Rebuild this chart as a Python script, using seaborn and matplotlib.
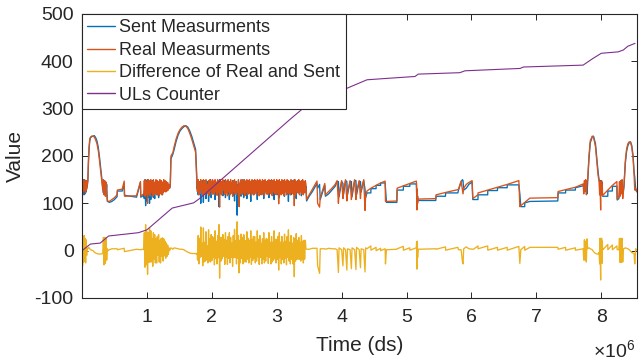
import numpy as np
import pandas as pd
import matplotlib
matplotlib.use('Agg')
import matplotlib.pyplot as plt
from matplotlib.ticker import FuncFormatter, FixedLocator
import seaborn as sns

sns.set_style('ticks')
plt.rcParams['font.family'] = ['Liberation Sans', 'DejaVu Sans']
plt.rcParams['mathtext.fontset'] = 'custom'
plt.rcParams['mathtext.rm'] = 'Liberation Sans'
plt.rcParams['axes.unicode_minus'] = False

# ---------------- data (time in 1e6 ds) ----------------
# start noise
t_s0 = [0.0, 0.008, 0.016, 0.024, 0.032, 0.040, 0.048, 0.056, 0.064, 0.072, 0.080]
real_s0 = [150, 118, 148, 125, 150, 128, 146, 122, 148, 130, 140]
sent_s0 = [0, 150, 120, 150, 118, 150, 120, 148, 125, 140, 135]
# hump 1
t_h1 = [0.09, 0.10, 0.11, 0.12, 0.13, 0.15, 0.17, 0.19, 0.21, 0.23, 0.25, 0.27, 0.29, 0.31, 0.32]
real_h1 = [150, 195, 222, 236, 240, 242, 242, 240, 234, 226, 212, 190, 165, 140, 128]
sent_h1 = [146, 188, 216, 232, 238, 241, 242, 243, 239, 232, 219, 197, 172, 147, 132]
# short noise
t_n1 = [0.33, 0.34, 0.35, 0.36, 0.37, 0.38, 0.39]
real_n1 = [150, 118, 148, 115, 145, 120, 108]
sent_n1 = [122, 148, 120, 142, 118, 140, 104]
# steps
t_st1 = [0.40, 0.42, 0.46, 0.50, 0.54, 0.545, 0.62, 0.65, 0.655, 0.84, 0.90, 0.905, 0.93]
real_st1 = [104, 104, 108, 112, 118, 128, 130, 147, 115, 116, 146, 115, 118]
sent_st1 = [104, 102, 104, 108, 114, 126, 126, 142, 117, 113, 144, 113, 115]
# noise block A (uniform sampling)
n2_start, n2_step = 0.95, 0.01
real_n2 = [120, 148, 115, 150, 118, 145, 100, 150, 120, 148, 116, 150, 122, 146, 115, 150, 118, 144, 120, 150,
           118, 148, 122, 146, 116, 150, 120, 148, 118, 145, 122, 150, 125, 148, 124, 146, 126, 144, 128, 140, 132]
sent_n2 = [118, 110, 150, 95, 148, 105, 150, 112, 145, 100, 140, 108, 146, 120, 148, 112, 136, 110, 146, 125,
           144, 118, 132, 112, 140, 128, 146, 122, 130, 118, 144, 125, 136, 128, 140, 130, 138, 132, 136, 134, 132]
# hump 2
t_h2 = [1.36, 1.37, 1.40, 1.42, 1.45, 1.48, 1.51, 1.54, 1.57, 1.60, 1.63, 1.66, 1.69, 1.72, 1.75, 1.765, 1.775]
real_h2 = [140, 200, 207, 220, 236, 248, 256, 261, 264, 263, 258, 248, 236, 222, 208, 160, 125]
sent_h2 = [136, 194, 204, 214, 231, 244, 253, 258, 262, 264, 261, 253, 242, 228, 214, 168, 130]
# noise block B (uniform sampling)
n3_start, n3_step = 1.78, 0.01
real_n3 = [125, 150, 118, 146, 121, 150, 128, 144, 116, 150, 122, 148,
           118, 150, 124, 140, 120, 148, 116, 150, 126, 146, 119, 150,
           121, 147, 118, 150, 124, 145, 117, 150, 123, 148, 92, 150,
           120, 146, 118, 150, 128, 144, 119, 150, 122, 147, 116, 150,
           124, 146, 118, 150, 121, 144, 115, 148, 125, 150, 120, 146,
           118, 136, 124, 150, 93, 142, 120, 150, 118, 148, 122, 146,
           150, 116, 146, 124, 150, 118, 148, 120, 150, 124, 146, 117,
           150, 121, 148, 118, 150, 122, 146, 118, 150, 125, 148, 116,
           150, 120, 146, 118, 150, 122, 148, 116, 150, 124, 146, 120,
           148, 118, 150, 122, 146, 120, 150, 116, 148, 124, 150, 121,
           146, 118, 150, 122, 148, 99, 150, 120, 146, 118, 150, 121,
           148, 116, 150, 124, 146, 118, 150, 122, 148, 120, 146, 118,
           150, 122, 146, 120, 148, 95, 150, 118, 146, 124, 148, 122,
           150, 118, 146, 124, 148, 120, 150, 118, 146, 122, 148, 140]
sent_n3 = [145, 118, 146, 120, 135, 100, 140, 128, 148, 102, 146, 130,
           140, 110, 144, 130, 146, 104, 138, 125, 150, 112, 140, 120,
           135, 120, 148, 108, 140, 125, 145, 118, 138, 93, 150, 122,
           142, 118, 135, 116, 140, 120, 148, 112, 136, 125, 145, 120,
           140, 108, 144, 122, 135, 128, 148, 116, 140, 105, 134, 125,
           146, 75, 140, 118, 140, 120, 146, 115, 134, 120, 150, 112,
           120, 140, 125, 148, 110, 136, 122, 146, 128, 138, 104, 146,
           126, 142, 118, 134, 120, 148, 128, 140, 108, 138, 124, 145,
           118, 134, 130, 146, 125, 140, 110, 142, 128, 146, 120, 132,
           124, 145, 112, 136, 128, 148, 120, 140, 130, 144, 108, 138,
           122, 144, 126, 140, 118, 140, 112, 135, 128, 146, 120, 140,
           130, 142, 115, 140, 126, 148, 120, 136, 104, 142, 128, 146,
           118, 140, 130, 148, 120, 150, 125, 140, 110, 142, 126, 140,
           122, 136, 128, 146, 116, 138, 130, 144, 124, 140, 126, 136]
# saw section 1
t_t1 = [3.46, 3.50, 3.55, 3.62, 3.63, 3.66, 3.67, 3.74, 3.75, 3.80, 3.85, 3.90]
real_t1 = [108, 118, 130, 147, 100, 92, 112, 142, 118, 125, 132, 140]
sent_t1 = [105, 115, 125, 142, 132, 140, 108, 138, 115, 120, 128, 136]
# saw section 2
t_t2 = [3.93, 3.95, 3.96, 4.00, 4.02, 4.03, 4.06, 4.08, 4.09, 4.13, 4.15, 4.16, 4.20, 4.22, 4.23, 4.27, 4.29, 4.30, 4.34, 4.36]
real_t2 = [148, 100, 120, 148, 110, 125, 150, 105, 122, 148, 108, 120, 150, 108, 125, 148, 110, 128, 150, 85]
sent_t2 = [146, 146, 114, 146, 142, 119, 148, 146, 118, 146, 146, 114, 148, 148, 118, 146, 146, 124, 148, 130]
# calm section 1
t_l1 = [4.37, 4.39, 4.45, 4.451, 4.53, 4.531, 4.60, 4.601, 4.67, 4.675, 4.69, 4.85, 4.855, 4.95, 4.951, 5.05, 5.051,
        5.15, 5.155, 5.16, 5.165, 5.17, 5.18, 5.45, 5.455, 5.60, 5.601, 5.79, 5.80, 5.84, 5.86, 5.87, 5.88, 5.92,
        5.96, 6.01, 6.02]
real_l1 = [118, 126, 132, 132, 138, 138, 143, 143, 147, 104, 104, 105, 132, 137, 137, 142, 142, 147, 140, 86, 130,
           100, 109, 110, 118, 123, 123, 129, 130, 147, 128, 120, 132, 140, 144, 148, 111]
sent_l1 = [112, 122, 122, 131, 131, 138, 138, 143, 143, 132, 102, 102, 128, 128, 136, 136, 141, 141, 121, 125, 110,
           115, 106, 106, 115, 115, 122, 122, 128, 145, 150, 148, 128, 132, 140, 145, 108]
# calm section 2
t_l2 = [6.03, 6.10, 6.101, 6.25, 6.251, 6.40, 6.401, 6.55, 6.551, 6.73, 6.745, 6.76, 6.82, 6.821, 6.90, 7.33, 7.335,
        7.45, 7.451, 7.60, 7.601, 7.72]
real_l2 = [111, 118, 122, 128, 128, 134, 134, 140, 140, 148, 93, 95, 102, 102, 111, 112, 125, 129, 129, 134, 134, 141]
sent_l2 = [108, 108, 118, 118, 127, 127, 133, 133, 139, 139, 120, 93, 93, 101, 104, 105, 122, 122, 128, 128, 133, 137]
# noise before hump 3
t_n4 = [7.73, 7.74, 7.75, 7.76, 7.77, 7.78]
real_n4 = [120, 148, 125, 150, 118, 145]
sent_n4 = [140, 125, 145, 130, 142, 120]
# hump 3
t_h3 = [7.79, 7.81, 7.83, 7.86, 7.88, 7.91, 7.93, 7.95, 7.965]
real_h3 = [150, 200, 232, 242, 240, 220, 190, 160, 146]
sent_h3 = [146, 194, 228, 240, 242, 226, 197, 167, 150]
# noise after hump 3
t_n5 = [7.975, 7.98, 7.985, 7.99, 7.995, 8.0, 8.005, 8.01, 8.015, 8.02]
real_n5 = [118, 146, 120, 86, 144, 122, 148, 118, 140, 117]
sent_n5 = [146, 120, 145, 148, 118, 146, 122, 145, 120, 115]
# calm section 3
t_l3 = [8.03, 8.10, 8.101, 8.17, 8.171, 8.24, 8.245]
real_l3 = [118, 128, 128, 138, 138, 146, 109]
sent_l3 = [115, 115, 126, 126, 136, 136, 107]
# noise before hump 4
t_n6 = [8.27, 8.28, 8.29, 8.30, 8.31, 8.32, 8.33, 8.34]
real_n6 = [112, 146, 115, 148, 120, 150, 110, 128]
sent_n6 = [110, 120, 140, 122, 145, 124, 134, 124]
# hump 4
t_h4 = [8.35, 8.37, 8.39, 8.41, 8.43, 8.45, 8.47, 8.49, 8.505, 8.515, 8.53, 8.55]
real_h4 = [140, 190, 215, 226, 230, 229, 218, 195, 160, 128, 132, 125]
sent_h4 = [136, 184, 210, 222, 228, 230, 222, 200, 166, 156, 128, 124]

# UL counter
t_ul = [0, 0.13, 0.28, 0.41, 0.87, 1.0, 1.39, 1.72, 1.82, 3.21, 3.40, 3.47, 3.67, 3.93, 4.08, 4.39, 4.70, 5.13,
        5.18, 5.82, 5.90, 6.75, 6.80, 7.72, 7.87, 8.0, 8.26, 8.34, 8.41, 8.52]
ul_counter = [0, 14, 16, 31, 38, 44, 90, 101, 111, 278, 300, 311, 320, 327, 343, 361, 364, 368, 373, 376, 380, 385,
              388, 392, 406, 417, 420, 424, 432, 438]

# ---------------- assemble ----------------
t_n2 = list(n2_start + n2_step * np.arange(len(real_n2)))
t_n3 = list(n3_start + n3_step * np.arange(len(real_n3)))
t_all = np.concatenate([t_s0, t_h1, t_n1, t_st1, t_n2, t_h2, t_n3, t_t1, t_t2, t_l1, t_l2, t_n4, t_h3, t_n5, t_l3, t_n6, t_h4]) * 1e6
real = np.concatenate([real_s0, real_h1, real_n1, real_st1, real_n2, real_h2, real_n3, real_t1, real_t2, real_l1,
                       real_l2, real_n4, real_h3, real_n5, real_l3, real_n6, real_h4]).astype(float)
sent = np.concatenate([sent_s0, sent_h1, sent_n1, sent_st1, sent_n2, sent_h2, sent_n3, sent_t1, sent_t2, sent_l1,
                       sent_l2, sent_n4, sent_h3, sent_n5, sent_l3, sent_n6, sent_h4]).astype(float)
diff = real - sent
df = pd.DataFrame({'t': t_all, 'sent': sent, 'real': real, 'diff': diff})
df_ul = pd.DataFrame({'t': np.array(t_ul) * 1e6, 'ul': ul_counter})

# ---------------- plot ----------------
fig = plt.figure(figsize=(6.39, 3.6), dpi=100)
ax = fig.add_axes([82 / 639, 1 - 298 / 360, 555 / 639, 284 / 360])

lw = 0.95
sns.lineplot(data=df, x='t', y='sent', ax=ax, color='#0072BD', lw=lw, sort=False, estimator=None, label='Sent Measurments')
sns.lineplot(data=df, x='t', y='real', ax=ax, color='#D95319', lw=lw, sort=False, estimator=None, label='Real Measurments')
sns.lineplot(data=df, x='t', y='diff', ax=ax, color='#EDB120', lw=lw, sort=False, estimator=None, label='Difference of Real and Sent')
sns.lineplot(data=df_ul, x='t', y='ul', ax=ax, color='#7E2F8E', lw=0.8, sort=False, estimator=None, label='ULs Counter')

ax.set_xlim(0, 8.55e6)
ax.set_ylim(-100, 500)
ax.xaxis.set_major_locator(FixedLocator([i * 1e6 for i in range(1, 9)]))
ax.xaxis.set_major_formatter(FuncFormatter(lambda v, p: f'{v / 1e6:g}'))
ax.yaxis.set_major_locator(FixedLocator(list(range(-100, 501, 100))))

dark = '#262626'
for s in ax.spines.values():
    s.set_visible(True)
    s.set_color(dark)
    s.set_linewidth(0.8)
ax.tick_params(direction='in', top=True, right=True, length=4.5, width=0.7, color=dark,
               labelsize=14, labelcolor=dark, pad=6)
ax.tick_params(axis='x', pad=8)

ax.set_xlabel('Time (ds)', fontsize=15, color=dark, labelpad=7)
ax.set_ylabel('Value', fontsize=15, color=dark, labelpad=7)

leg = ax.legend(loc='upper left', bbox_to_anchor=(0, 1), borderaxespad=0, fontsize=13, frameon=True,
                fancybox=False, edgecolor=dark, framealpha=1, handlelength=1.55, handletextpad=0.22,
                labelspacing=0.3, borderpad=0.3)
leg.get_frame().set_linewidth(0.8)
for line in leg.get_lines():
    line.set_linewidth(1.0)

fig.text(593 / 639, 1 - 357 / 360, r'$\times\mathregular{10^{6}}$', fontsize=14, color=dark, ha='left', va='baseline')

fig.savefig('out.png', dpi=100)
